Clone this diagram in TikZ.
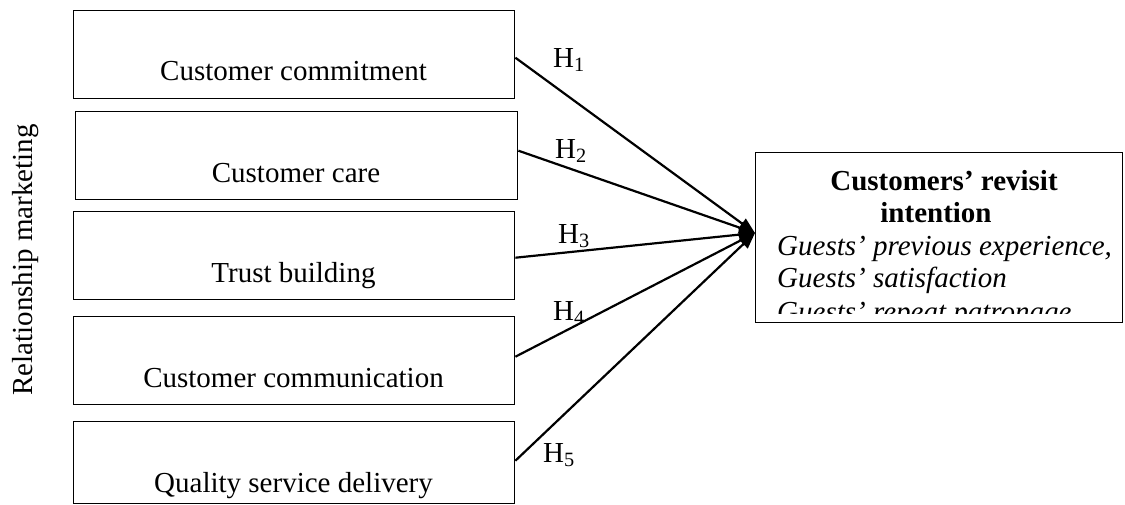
\documentclass[tikz,border=0pt]{standalone}
\usepackage{fontspec}
\setmainfont{Liberation Serif}
\usetikzlibrary{arrows.meta}
\begin{document}
\begin{tikzpicture}[x=1pt,y=-1pt,
  box/.style={draw,line width=1.4pt,inner sep=0pt,anchor=north west},
  txt/.style={anchor=base,inner sep=0pt,font=\fontsize{29}{32}\selectfont},
  ltxt/.style={anchor=base west,inner sep=0pt,font=\fontsize{29}{32}\selectfont\itshape},
  conn/.style={line width=2.2pt,-{Triangle[length=16pt,width=12pt]}},
  hl/.style={anchor=base west,inner sep=0pt,font=\fontsize{29}{32}\selectfont}]
\useasboundingbox (0,0) rectangle (1125,504);
% left boxes
\node[box,minimum width=441pt,minimum height=88pt] (b1) at (73,10) {};
\node[box,minimum width=442pt,minimum height=88pt] (b2) at (75,111) {};
\node[box,minimum width=441pt,minimum height=88pt] (b3) at (73,211) {};
\node[box,minimum width=441pt,minimum height=88pt] (b4) at (73,316) {};
\node[box,minimum width=441pt,minimum height=82pt] (b5) at (73,421) {};
\node[txt] (t1) at (293.5,80) {Customer commitment};
\node[txt] (t2) at (296,182) {Customer care};
\node[txt] (t3) at (293.5,282) {Trust building};
\node[txt] (t4) at (293.5,387) {Customer communication};
\node[txt] (t5) at (293.5,492) {Quality service delivery};
% side label
\node[txt,rotate=90] (rm) at (32,260) {Relationship marketing};
% right box
\node[box,minimum width=367pt,minimum height=170pt] (R) at (755,152) {};
\node[txt,font=\fontsize{29}{32}\selectfont\bfseries] (r1) at (944,190) {Customers’ revisit};
\node[txt,font=\fontsize{29}{32}\selectfont\bfseries] (r2) at (936,222) {intention};
\node[ltxt] (r3) at (777,255) {Guests’ previous experience,};
\node[ltxt] (r4) at (777,287) {Guests’ satisfaction};
\begin{scope}
\clip (755,152) rectangle (1122,313);
\node[ltxt] (r5) at (777,321) {Guests’ repeat patronage};
\end{scope}
% connectors
\coordinate (tip) at (755,233);
\draw[conn] ([yshift=-3pt]b1.east) -- (tip);
\draw[conn] ([yshift=5pt]b2.east) -- (tip);
\draw[conn] ([yshift=-2pt]b3.east) -- (tip);
\draw[conn] ([yshift=4pt]b4.east) -- (tip);
\draw[conn] ([yshift=2pt]b5.east) -- (tip);
% hypothesis labels
\node[hl] (h1) at (553,67) {H\textsubscript{1}};
\node[hl] (h2) at (555,158) {H\textsubscript{2}};
\node[hl] (h3) at (558,243) {H\textsubscript{3}};
\node[hl] (h4) at (553,320) {H\textsubscript{4}};
\node[hl] (h5) at (543,462) {H\textsubscript{5}};
\end{tikzpicture}
\end{document}
